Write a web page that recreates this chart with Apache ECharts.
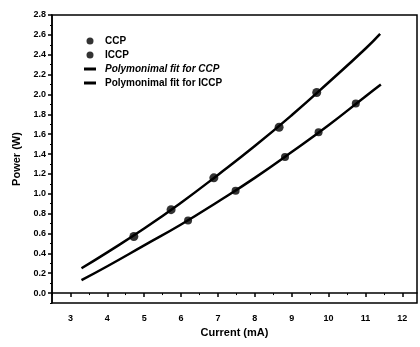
<!DOCTYPE html>
<html>
<head>
<meta charset="utf-8">
<script src="https://cdn.jsdelivr.net/npm/echarts@6/dist/echarts.min.js"></script>
<style>
  html, body { margin: 0; padding: 0; background: #fff; }
  #chart { width: 420px; height: 347px; }
</style>
</head>
<body>
<div id="chart"></div>
<script>
// measured points
var ccpX  = [4.72, 5.73, 6.89, 8.66, 9.68];
var ccpY  = [0.57, 0.84, 1.16, 1.67, 2.02];
var iccpX = [6.19, 7.48, 8.82, 9.73, 10.74];
var iccpY = [0.73, 1.03, 1.37, 1.62, 1.91];

// fit curves
var fitX     = [3.3, 4, 5, 6, 7, 8, 9, 10, 11, 11.4];
var fitCcp   = [0.25, 0.41, 0.65, 0.91, 1.19, 1.48, 1.79, 2.12, 2.46, 2.61];
var fitIccpX = [3.3, 4, 5, 6, 7, 8, 9, 10, 11, 11.42];
var fitIccp  = [0.13, 0.27, 0.48, 0.69, 0.92, 1.16, 1.42, 1.69, 1.98, 2.10];

// tick labels
var xTicks = [3, 4, 5, 6, 7, 8, 9, 10, 11, 12];
var xMinor = [2.5, 3.5, 4.5, 5.5, 6.5, 7.5, 8.5, 9.5, 10.5, 11.5];
var yTicks = [0, 0.2, 0.4, 0.6, 0.8, 1.0, 1.2, 1.4, 1.6, 1.8, 2.0, 2.2, 2.4, 2.6, 2.8];
var yMinor = [-0.1, 0.1, 0.3, 0.5, 0.7, 0.9, 1.1, 1.3, 1.5, 1.7, 1.9, 2.1, 2.3, 2.5, 2.7];

function pairs(xs, ys){ return xs.map(function(x, i){ return [x, ys[i]]; }); }

var font = 'Liberation Sans, Arial, sans-serif';
var lineIcon = 'path://M0,0H12V3H0Z';
var chart = echarts.init(document.getElementById('chart'));

chart.setOption({
  animation: false,
  backgroundColor: '#fff',
  grid: {
    left: 52, right: 3, top: 15, bottom: 44,
    show: true, borderColor: '#000', borderWidth: 1.5
  },
  legend: {
    orient: 'vertical',
    left: 79, top: 31,
    itemWidth: 12, itemHeight: 7, itemGap: 4,
    textStyle: { fontFamily: font, fontSize: 10, fontWeight: 'bold', color: '#000', padding: [0, 0, 0, 4] },
    data: [
      { name: 'CCP', icon: 'circle' },
      { name: 'ICCP', icon: 'circle' },
      { name: 'Polymonimal fit for CCP', icon: lineIcon, textStyle: { fontStyle: 'italic' } },
      { name: 'Polymonimal fit for ICCP', icon: lineIcon }
    ]
  },
  xAxis: [{
    type: 'value', min: 2.5, max: 12.4,
    position: 'bottom',
    axisLine: { lineStyle: { color: '#000', width: 1.5 } },
    axisTick: { inside: false, length: 4, customValues: xTicks, lineStyle: { color: '#000', width: 1.5 } },
    axisLabel: { customValues: xTicks, fontFamily: font, fontSize: 9, fontWeight: 'bold', color: '#000', margin: 11 },
    splitLine: { show: false },
    name: 'Current (mA)', nameLocation: 'middle', nameGap: 23,
    nameTextStyle: { fontFamily: font, fontSize: 11, fontWeight: 'bold', color: '#000' }
  }, {
    type: 'value', min: 2.5, max: 12.4,
    position: 'bottom',
    axisLine: { show: false },
    axisTick: { length: 2, customValues: xMinor, lineStyle: { color: '#000', width: 1 } },
    axisLabel: { show: false },
    splitLine: { show: false }
  }],
  yAxis: [{
    type: 'value', min: -0.1, max: 2.8,
    axisLine: { show: true, lineStyle: { color: '#000', width: 1.5 } },
    axisTick: { show: true, length: 4, customValues: yTicks, lineStyle: { color: '#000', width: 1.5 } },
    axisLabel: {
      customValues: yTicks, fontFamily: font, fontSize: 9, fontWeight: 'bold', color: '#000', margin: 6,
      formatter: function(v){ return v.toFixed(1); }
    },
    splitLine: { show: false },
    name: 'Power (W)', nameLocation: 'middle', nameGap: 30, nameRotate: 90,
    nameTextStyle: { fontFamily: font, fontSize: 11, fontWeight: 'bold', color: '#000' }
  }, {
    type: 'value', min: -0.1, max: 2.8, position: 'left',
    axisLine: { show: false },
    axisTick: { show: true, length: 2, customValues: yMinor, lineStyle: { color: '#000', width: 1 } },
    axisLabel: { show: false },
    splitLine: { show: false }
  }],
  series: [
    {
      name: 'CCP', type: 'scatter', symbolSize: 9, z: 5,
      itemStyle: { color: '#000' },
      data: pairs(ccpX, ccpY)
    },
    {
      name: 'ICCP', type: 'scatter', symbolSize: 8, z: 5,
      itemStyle: { color: '#000' },
      data: pairs(iccpX, iccpY)
    },
    {
      name: 'Polymonimal fit for CCP', type: 'line', smooth: true, symbol: 'none',
      lineStyle: { color: '#000', width: 2.5 }, itemStyle: { color: '#000' },
      data: pairs(fitX, fitCcp)
    },
    {
      name: 'Polymonimal fit for ICCP', type: 'line', smooth: true, symbol: 'none',
      lineStyle: { color: '#000', width: 2.5 }, itemStyle: { color: '#000' },
      data: pairs(fitIccpX, fitIccp)
    }
  ]
});
</script>
</body>
</html>
